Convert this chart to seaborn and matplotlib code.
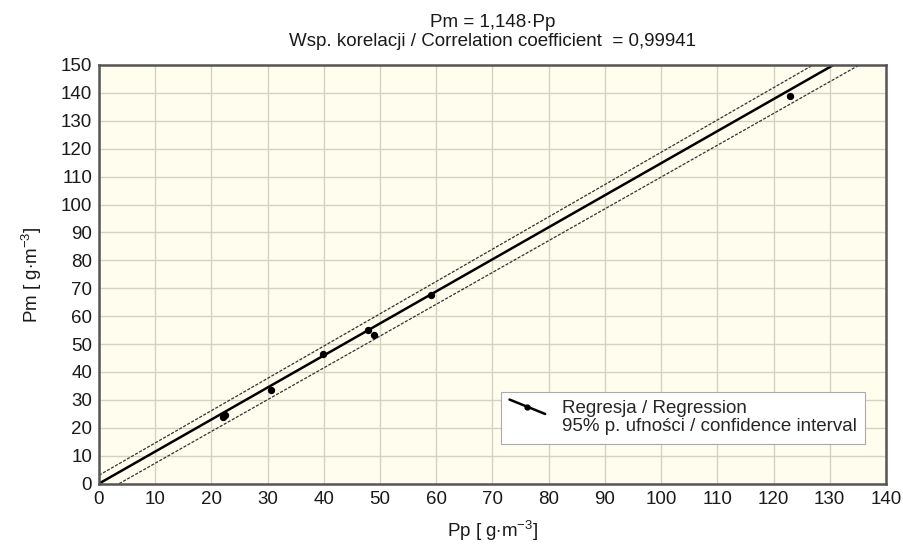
import numpy as np
import pandas as pd
import matplotlib
matplotlib.use("Agg")
import matplotlib.pyplot as plt
from matplotlib.lines import Line2D
from matplotlib.legend_handler import HandlerBase
import seaborn as sns

# dane
pp = [22.0, 22.4, 30.6, 39.8, 47.8, 48.9, 59.0, 122.9]
pm = [24.0, 24.6, 33.6, 46.6, 55.1, 53.1, 67.7, 139.0]
slope = 1.148
line_x = [0, 140]
ci_upper = [3.0, 165.0]
ci_lower = [-4.1, 155.4]

title_txt = "Pm = 1,148\u00b7Pp\nWsp. korelacji / Correlation coefficient  = 0,99941"
label_reg = "Regresja / Regression"
label_ci = "95% p. ufności / confidence interval"

sns.set_theme(style="white")
plt.rcParams["font.family"] = ["Liberation Sans", "DejaVu Sans"]
plt.rcParams["mathtext.fontset"] = "custom"
plt.rcParams["mathtext.rm"] = "Liberation Sans"
plt.rcParams["mathtext.it"] = "Liberation Sans"

df_pts = pd.DataFrame({"Pp": pp, "Pm": pm})
df_reg = pd.DataFrame({"Pp": line_x, "Pm": [slope * x for x in line_x]})
df_up = pd.DataFrame({"Pp": line_x, "Pm": ci_upper})
df_lo = pd.DataFrame({"Pp": line_x, "Pm": ci_lower})

fs = 13.5
fig = plt.figure(figsize=(9.04, 5.47), dpi=100)
ax = fig.add_axes([0.1095, 0.1159, 0.8705, 0.7653])
ax.set_facecolor("#fefdee")

sns.lineplot(data=df_up, x="Pp", y="Pm", ax=ax, color="#333333", lw=0.9,
             linestyle=(0, (2.5, 1.2)))
sns.lineplot(data=df_lo, x="Pp", y="Pm", ax=ax, color="#333333", lw=0.9,
             linestyle=(0, (2.5, 1.2)))
sns.lineplot(data=df_reg, x="Pp", y="Pm", ax=ax, color="black", lw=1.8)
sns.scatterplot(data=df_pts, x="Pp", y="Pm", ax=ax, color="black", s=28,
                edgecolor="black", linewidth=0, zorder=5)

ax.set_xlim(0, 140)
ax.set_ylim(0, 150)
ax.set_xticks(np.arange(0, 141, 10))
ax.set_yticks(np.arange(0, 151, 10))
ax.grid(True, color="#d6d2c2", lw=1.0)
ax.set_axisbelow(True)
ax.tick_params(length=0, labelsize=fs, colors="#1a1a1a", pad=5)
for s in ax.spines.values():
    s.set_color("#555555")
    s.set_linewidth(1.8)

ax.set_xlabel("Pp [ g$\\cdot$m$^{-3}$]", fontsize=fs, color="#1a1a1a", labelpad=8)
ax.set_ylabel("Pm [ g$\\cdot$m$^{-3}$]", fontsize=fs, color="#1a1a1a", labelpad=12)
ax.set_title(title_txt, fontsize=fs, color="#1a1a1a", pad=14, linespacing=1.1)


# ukosny symbol w legendzie
class SlantHandler(HandlerBase):
    def create_artists(self, legend, orig_handle, xdescent, ydescent,
                       width, height, fontsize, trans):
        x0, x1 = -xdescent, -xdescent + width
        y0, y1 = -ydescent + height * 1.05, -ydescent - height * 0.05
        ln = Line2D([x0, x1], [y0, y1], color="black", lw=1.8, transform=trans)
        dot = Line2D([(x0 + x1) / 2], [(y0 + y1) / 2], marker="o", ms=3.5,
                     color="black", transform=trans)
        return [ln, dot]


h_reg = Line2D([], [], color="black")
h_ci = Line2D([], [], alpha=0)
leg = ax.legend([h_reg, h_ci], [label_reg, label_ci],
                handler_map={h_reg: SlantHandler()},
                loc="lower left", bbox_to_anchor=(0.511, 0.095),
                fontsize=fs, frameon=True, fancybox=False, framealpha=1,
                edgecolor="#aaaaaa", borderpad=0.45, labelspacing=0.05,
                handlelength=1.9, handletextpad=0.9, borderaxespad=0)
leg.get_frame().set_linewidth(0.8)

fig.savefig("out.png", dpi=100)
